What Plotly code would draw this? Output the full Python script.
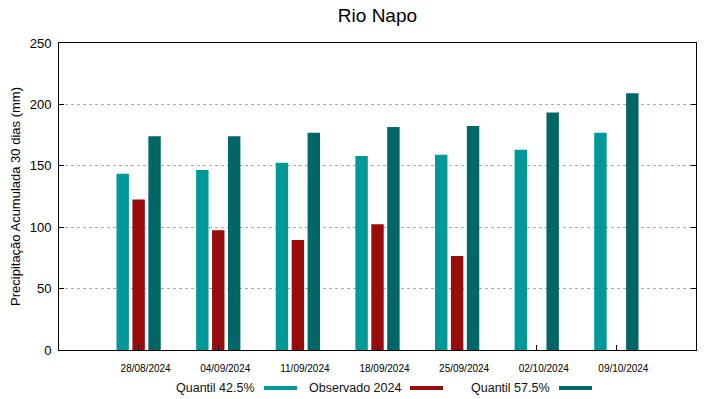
import plotly.graph_objects as go

dates = ["28/08/2024", "04/09/2024", "11/09/2024", "18/09/2024", "25/09/2024", "02/10/2024", "09/10/2024"]
q425 = [143.5, 146.5, 152.5, 158, 159, 163, 177]
obs2024 = [122.5, 97.5, 89.5, 102.5, 76.5, None, None]
q575 = [174, 174, 177, 181.5, 182.5, 193.5, 209]
series_names = ["Quantil 42.5%", "Observado 2024", "Quantil 57.5%"]
colors = ["#009999", "#990c0c", "#006666"]

x = list(range(len(dates)))
fig = go.Figure()
for name, vals, col in zip(series_names, [q425, obs2024, q575], colors):
    fig.add_trace(go.Bar(x=x, y=vals, name=name, marker_color=col,
                         marker_line_width=0, showlegend=False))

fig.update_layout(
    width=719, height=399,
    margin=dict(l=59, r=23, t=43, b=49),
    paper_bgcolor="white", plot_bgcolor="white",
    barmode="group", bargap=0.4, bargroupgap=0.22,
    font=dict(family="Liberation Sans, Arial, sans-serif", color="black"),
    title=dict(text="Rio Napo", x=0.525, xanchor="center", y=0.962, yanchor="middle",
               font=dict(size=19, color="black")),
)
fig.update_xaxes(range=[-1, 7], tickvals=x, ticktext=dates, ticks="inside", ticklen=5,
                 tickcolor="black", showline=True, linecolor="black", linewidth=1, mirror=True,
                 showgrid=False, zeroline=False, tickfont=dict(size=10), ticklabelshift=7,
                 ticklabelstandoff=9)
fig.update_yaxes(range=[0, 250], dtick=50, ticks="inside", ticklen=5, tickcolor="black",
                 showline=True, linecolor="black", linewidth=1, mirror="ticks",
                 showgrid=True, gridcolor="#a8a8a8", griddash="dot", gridwidth=1,
                 zeroline=False, tickfont=dict(size=13), ticklabelstandoff=4,
                 title=dict(text="Precipitação Acumulada 30 dias (mm)", font=dict(size=13), standoff=6))

# custom legend: text then swatch (gnuplot style)
legend_text_right = [257, 403, 552]
for name, col, xr in zip(series_names, colors, legend_text_right):
    fig.add_annotation(xref="paper", yref="paper", x=(xr - 59) / 637, y=(350 - 388) / 307,
                       text=name, showarrow=False, xanchor="right", yanchor="middle",
                       font=dict(size=12.5, color="#111111"))
    fig.add_shape(type="rect", xref="paper", yref="paper",
                  x0=(xr + 7 - 59) / 637, x1=(xr + 40 - 59) / 637,
                  y0=(350 - 386) / 307, y1=(350 - 390) / 307,
                  fillcolor=col, line=dict(width=0))

fig.write_html("out.html", config={"displayModeBar": False},
               post_script="document.body.style.margin='0';document.body.style.overflow='hidden';")
